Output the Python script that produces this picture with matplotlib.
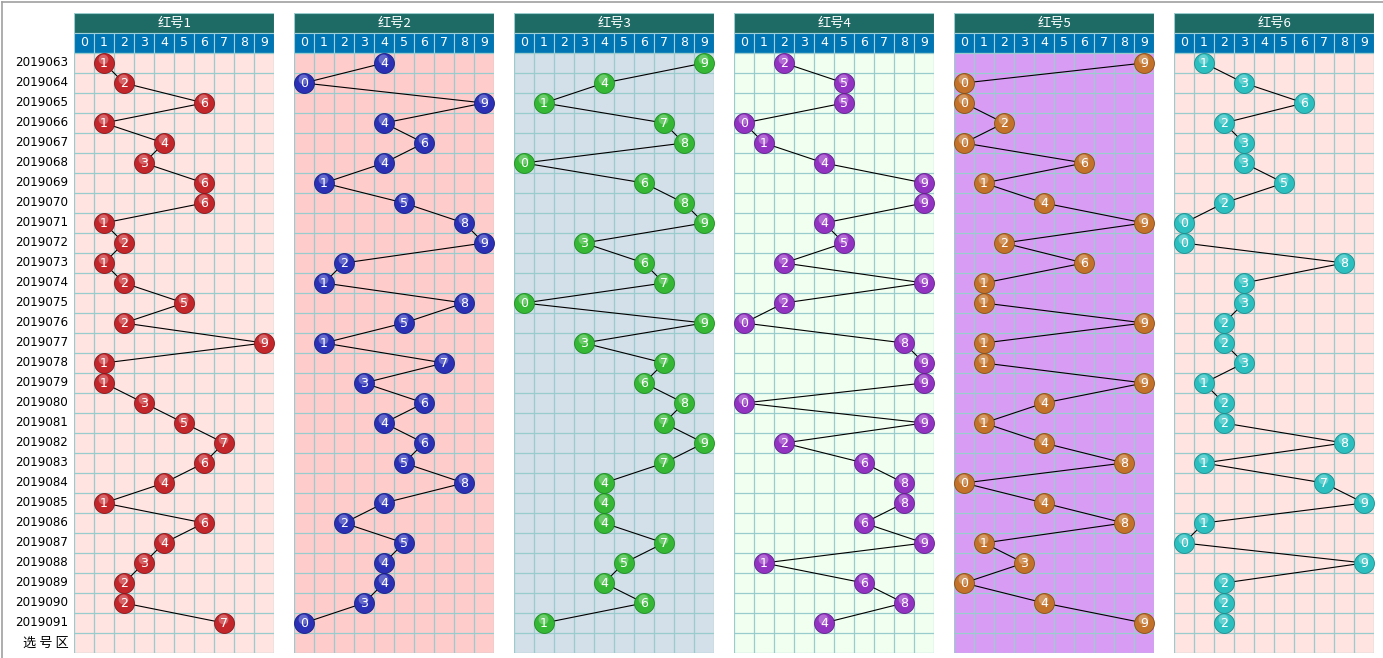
"""
Lottery trend chart: six red-ball positions, digit per issue.
"""

import matplotlib.pyplot as plt
from matplotlib.lines import Line2D
from matplotlib.patches import Rectangle

plt.rcParams["font.family"] = ["Noto Sans CJK SC", "DejaVu Sans"]

issues = [
    "2019063", "2019064", "2019065", "2019066", "2019067", "2019068",
    "2019069", "2019070", "2019071", "2019072", "2019073", "2019074",
    "2019075", "2019076", "2019077", "2019078", "2019079", "2019080",
    "2019081", "2019082", "2019083", "2019084", "2019085", "2019086",
    "2019087", "2019088", "2019089", "2019090", "2019091",
]
digits = ["0", "1", "2", "3", "4", "5", "6", "7", "8", "9"]
titles = ["红号1", "红号2", "红号3", "红号4", "红号5", "红号6"]

red1 = [1, 2, 6, 1, 4, 3, 6, 6, 1, 2, 1, 2, 5, 2, 9, 1, 1, 3, 5, 7, 6, 4, 1, 6, 4, 3, 2, 2, 7]
red2 = [4, 0, 9, 4, 6, 4, 1, 5, 8, 9, 2, 1, 8, 5, 1, 7, 3, 6, 4, 6, 5, 8, 4, 2, 5, 4, 4, 3, 0]
red3 = [9, 4, 1, 7, 8, 0, 6, 8, 9, 3, 6, 7, 0, 9, 3, 7, 6, 8, 7, 9, 7, 4, 4, 4, 7, 5, 4, 6, 1]
red4 = [2, 5, 5, 0, 1, 4, 9, 9, 4, 5, 2, 9, 2, 0, 8, 9, 9, 0, 9, 2, 6, 8, 8, 6, 9, 1, 6, 8, 4]
red5 = [9, 0, 0, 2, 0, 6, 1, 4, 9, 2, 6, 1, 1, 9, 1, 1, 9, 4, 1, 4, 8, 0, 4, 8, 1, 3, 0, 4, 9]
red6 = [1, 3, 6, 2, 3, 3, 5, 2, 0, 0, 8, 3, 3, 2, 2, 3, 1, 2, 2, 8, 1, 7, 9, 1, 0, 9, 2, 2, 2]
series = [red1, red2, red3, red4, red5, red6]

panel_bg = ["#ffe4e1", "#ffcccc", "#d3dfe9", "#f0fff0", "#d89cf5", "#ffe4e1"]
ball_colors = ["#c3272c", "#2b30b5", "#36b836", "#9333c2", "#c2722b", "#2dbfbf"]
ball_edges = ["#8a1518", "#1a1d80", "#1f8a1f", "#62208a", "#8a4c17", "#1c8c8c"]
title_color = "#1e6b66"
digit_color = "#0075b3"
grid_color = "#99cccc"

W, H = 1383, 658
fig = plt.figure(figsize=(W / 100, H / 100), dpi=100)
fig.patch.set_facecolor("white")

# thin grey frame on top and left
fig.add_artist(Line2D([2 / W, 1], [1 - 2 / H, 1 - 2 / H], color="#a0a0a0", lw=1.2))
fig.add_artist(Line2D([2 / W, 2 / W], [0, 1 - 2 / H], color="#a0a0a0", lw=1.2))

n_rows = len(issues) + 1  # last row is the pick area
lefts = [74, 294, 514, 734, 954, 1174]

for p, vals in enumerate(series):
    ax = fig.add_axes([lefts[p] / W, (H - 653) / H, 200 / W, 640 / H])
    ax.set_xlim(-0.5, 9.5)
    ax.set_ylim(n_rows - 0.5, -2.5)
    ax.axis("off")

    # header
    ax.add_patch(Rectangle((-0.5, -2.5), 10, 1, fc=title_color, ec=grid_color, lw=0.8))
    ax.text(4.5, -2, titles[p], color="white", ha="center", va="center", fontsize=9.5)
    for d, lab in enumerate(digits):
        ax.add_patch(Rectangle((d - 0.5, -1.5), 1, 1, fc=digit_color, ec="#9fd0d8", lw=0.8))
        ax.text(d, -1, lab, color="white", ha="center", va="center", fontsize=9,
                family="DejaVu Sans")

    # body and grid
    ax.add_patch(Rectangle((-0.5, -0.5), 10, n_rows, fc=panel_bg[p], ec="none"))
    for k in range(n_rows + 1):
        ax.plot([-0.5, 9.5], [k - 0.5, k - 0.5], color=grid_color, lw=0.9, zorder=2)
    for d in range(11):
        ax.plot([d - 0.5, d - 0.5], [-0.5, n_rows - 0.5], color=grid_color, lw=0.9, zorder=2)

    rows = list(range(len(vals)))
    ax.plot(vals, rows, color="black", lw=0.8, zorder=3)
    ax.scatter(vals, rows, s=205, color=ball_colors[p], edgecolors=ball_edges[p],
               linewidths=0.6, zorder=4)
    ax.scatter([v - 0.05 for v in vals], [r - 0.22 for r in rows], s=50, color="white",
               alpha=0.28, linewidths=0, zorder=5)
    for v, r in zip(vals, rows):
        ax.text(v, r + 0.03, str(v), color="white", ha="center", va="center",
                fontsize=9, family="DejaVu Sans", zorder=6)

    if p == 0:
        for r, lab in enumerate(issues):
            ax.text(-0.8, r, lab, ha="right", va="center", fontsize=8.6,
                    family="DejaVu Sans", color="black")
        ax.text(-0.75, len(issues), "选 号 区", ha="right", va="center", fontsize=9.5,
                color="black")

fig.savefig("out.png", dpi=100, facecolor="white")
